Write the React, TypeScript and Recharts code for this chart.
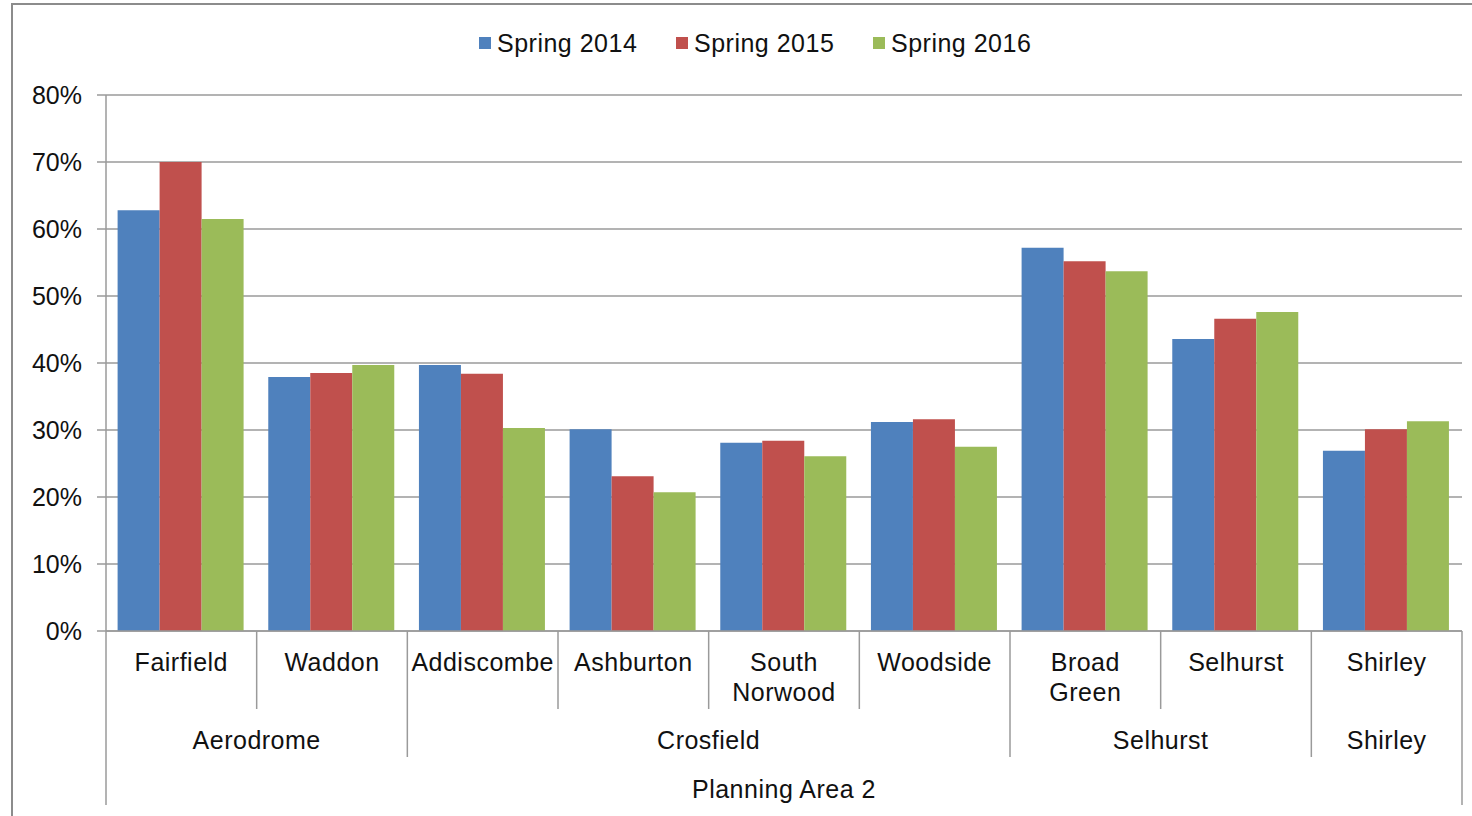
import React from 'react';
import { BarChart, Bar, XAxis, YAxis, CartesianGrid } from 'recharts';

const wards = ['Fairfield', 'Waddon', 'Addiscombe', 'Ashburton', 'South Norwood', 'Woodside', 'Broad Green', 'Selhurst', 'Shirley'];
const spring2014 = [62.8, 37.9, 39.7, 30.1, 28.1, 31.2, 57.2, 43.6, 26.9];
const spring2015 = [70.0, 38.5, 38.4, 23.1, 28.4, 31.6, 55.2, 46.6, 30.1];
const spring2016 = [61.5, 39.7, 30.3, 20.7, 26.1, 27.5, 53.7, 47.6, 31.3];
const groupNames = ['Aerodrome', 'Crosfield', 'Selhurst', 'Shirley'];
const groupSizes = [2, 4, 2, 1];
const areaName = 'Planning Area 2';
const yTicks = [0, 10, 20, 30, 40, 50, 60, 70, 80];
const seriesNames = ['Spring 2014', 'Spring 2015', 'Spring 2016'];
const seriesColors = ['#4F81BD', '#C0504D', '#9BBB59'];

const data = wards.map((w, i) => ({
  ward: w,
  s2014: spring2014[i],
  s2015: spring2015[i],
  s2016: spring2016[i],
}));

const groupStarts: number[] = [];
{
  let acc = 0;
  groupSizes.forEach((s) => {
    groupStarts.push(acc);
    acc += s;
  });
}

const FONT = '"Liberation Sans", Arial, sans-serif';
const LINE = '#9a9a9a';
const TEXT = '#111';
const FS = 25;

const CategoryTick = (props: any) => {
  const { x, y, payload } = props;
  const index: number = props.index ?? payload?.index ?? 0;
  const half: number = payload?.offset ?? 75.33;
  const band = half * 2;
  const left = x - half;
  const right = x + half;
  const lines = String(payload.value).split(' ');
  const gi = groupStarts.indexOf(index);
  const isGroupStart = gi >= 0;
  const isLast = index === wards.length - 1;
  const sepBottom = index === 0 ? 174 : isGroupStart ? 126 : 78;
  return (
    <g>
      <line x1={left} x2={left} y1={y} y2={y + sepBottom} stroke={LINE} strokeWidth={1.5} />
      {isLast && <line x1={right} x2={right} y1={y} y2={y + 174} stroke={LINE} strokeWidth={1.5} />}
      {lines.map((ln, k) => (
        <text key={k} x={x} y={y + 31 + k * 30} textAnchor="middle" dominantBaseline="central" fontSize={FS} fill={TEXT} fontFamily={FONT} letterSpacing={0.5}>
          {ln}
        </text>
      ))}
      {isGroupStart && (
        <text x={left + (groupSizes[gi] * band) / 2} y={y + 109} textAnchor="middle" dominantBaseline="central" fontSize={FS} fill={TEXT} fontFamily={FONT} letterSpacing={0.5}>
          {groupNames[gi]}
        </text>
      )}
      {index === 0 && (
        <text x={left + (wards.length * band) / 2} y={y + 158} textAnchor="middle" dominantBaseline="central" fontSize={FS} fill={TEXT} fontFamily={FONT} letterSpacing={0.5}>
          {areaName}
        </text>
      )}
    </g>
  );
};

const LegendBlock = () => (
  <div style={{ position: 'absolute', top: 28, left: 0, display: 'flex', paddingLeft: 479, alignItems: 'center', fontFamily: FONT, fontSize: FS, color: TEXT, letterSpacing: 0.5, lineHeight: '30px' }}>
    {seriesNames.map((n, i) => (
      <div key={n} style={{ display: 'flex', alignItems: 'center', width: 197 }}>
        <span style={{ display: 'inline-block', width: 12, height: 12, background: seriesColors[i], marginRight: 6 }} />
        <span>{n}</span>
      </div>
    ))}
  </div>
);

export default function App() {
  return (
    <div style={{ position: 'absolute', left: 0, top: 0, width: 1472, height: 816, background: '#fff', overflow: 'hidden', fontFamily: FONT }}>
      <div style={{ position: 'absolute', left: 11, top: 3, width: 1480, height: 830, borderLeft: '2px solid #8c8c8c', borderTop: '2px solid #8c8c8c' }} />
      <div style={{ position: 'absolute', left: 0, top: 0 }}>
        <BarChart
          width={1472}
          height={816}
          data={data}
          margin={{ top: 95, right: 10, bottom: 0, left: 0 }}
          barCategoryGap="7.7%"
          barGap={0}
          style={{ fontFamily: FONT }}
        >
          <CartesianGrid vertical={false} stroke={LINE} strokeWidth={1.5} />
          <XAxis
            dataKey="ward"
            height={185}
            tickSize={0}
            tickMargin={0}
            tickLine={false}
            axisLine={{ stroke: LINE, strokeWidth: 1.5 }}
            interval={0}
            tick={<CategoryTick />}
          />
          <YAxis
            width={106}
            domain={[0, 80]}
            ticks={yTicks}
            interval={0}
            tickFormatter={(v: number) => `${v}%`}
            tickSize={9}
            tickMargin={15}
            tickLine={{ stroke: LINE, strokeWidth: 1.5 }}
            axisLine={{ stroke: LINE, strokeWidth: 1.5 }}
            tick={{ fill: TEXT, fontSize: FS, fontFamily: FONT }}
          />
          <Bar dataKey="s2014" name={seriesNames[0]} fill={seriesColors[0]} isAnimationActive={false} />
          <Bar dataKey="s2015" name={seriesNames[1]} fill={seriesColors[1]} isAnimationActive={false} />
          <Bar dataKey="s2016" name={seriesNames[2]} fill={seriesColors[2]} isAnimationActive={false} />
        </BarChart>
      </div>
      <LegendBlock />
    </div>
  );
}
